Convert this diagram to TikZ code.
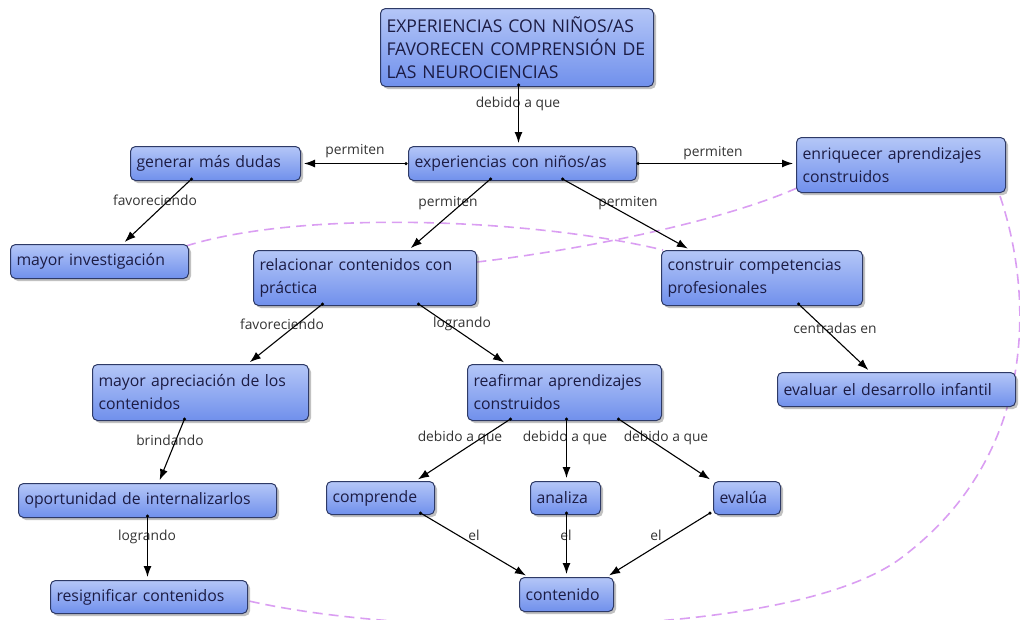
\documentclass[tikz,border=0pt]{standalone}
\usepackage{fontspec}
\setmainfont{Open Sans}
\usetikzlibrary{arrows.meta,shadows,calc}
\definecolor{boxtop}{HTML}{B4C6F7}
\definecolor{boxbot}{HTML}{7090EC}
\definecolor{boxborder}{HTML}{2E3A66}
\definecolor{boxtext}{HTML}{1C1C44}
\definecolor{lbltext}{HTML}{333333}
\definecolor{linkcol}{HTML}{DA9EF2}
\tikzset{
  box/.style={draw=boxborder, line width=1pt, rounded corners=5pt,
    top color=boxtop, bottom color=boxbot,
    drop shadow={shadow xshift=2.5pt, shadow yshift=-2.5pt, opacity=0.35, fill=black!70},
    anchor=north west, align=left, inner xsep=6pt, inner ysep=2pt,
    font=\fontsize{15.8}{23}\selectfont, text=boxtext},
  lbl/.style={font=\fontsize{13.8}{15}\selectfont, text=lbltext, inner sep=0pt},
  conn/.style={-{Latex[length=11pt,width=8pt]}, line width=1.1pt, shorten >=3pt},
  dotmark/.style={circle, fill=black, inner sep=0pt, minimum size=3.5pt},
  link/.style={draw=linkcol, line width=1.6pt, dash pattern=on 10pt off 6pt}
}
\newcommand{\bx}[6]{\node[box, minimum width=#4pt, minimum height=#5pt, text width=#4pt-12pt] (#1) at (#2,#3) {#6};}
\begin{document}
\begin{tikzpicture}[x=1pt,y=-1pt]
\useasboundingbox (0,0) rectangle (1020,619);
\begin{scope}
\clip (0,0) rectangle (1020,619);
% dashed cross links (drawn first, below boxes)
\coordinate (c1s) at (186,246);
\coordinate (c1e) at (663,250);
\draw[link] (c1s) .. controls (300,210) and (530,218) .. (c1e);
\coordinate (c2s) at (797,188);
\coordinate (c2e) at (477,262);
\draw[link] (c2s) .. controls (720,222) and (580,250) .. (c2e);
\coordinate (c3s) at (1000,196);
\coordinate (c3m) at (905,555);
\coordinate (c3e) at (249,601);
\draw[link] (c3s) .. controls (1035,300) and (1035,455) .. (c3m)
  .. controls (800,640) and (420,640) .. (c3e);
\end{scope}

% boxes
\node[box, minimum width=273pt, minimum height=78pt, text width=261pt,
  font=\fontsize{17.6}{23}\selectfont] (top) at (380,8)
  {EXPERIENCIAS CON NIÑOS/AS\\FAVORECEN COMPRENSIÓN DE\\LAS NEUROCIENCIAS};
\bx{exp}{408}{146}{228}{34}{experiencias con niños/as}
\bx{gen}{130}{146}{170}{34}{generar más dudas}
\bx{enr}{796}{137}{209}{55}{enriquecer aprendizajes\\construidos}
\bx{minv}{10}{244}{178}{34}{mayor investigación}
\bx{rel}{253}{250}{223}{55}{relacionar contenidos con\\práctica}
\bx{cons}{661}{250}{201}{55}{construir competencias\\profesionales}
\bx{mapr}{92}{364}{216}{56}{mayor apreciación de los\\contenidos}
\bx{reaf}{467}{364}{194}{56}{reafirmar aprendizajes\\construidos}
\bx{eval}{777}{372}{238}{34}{evaluar el desarrollo infantil}
\bx{oport}{18}{483}{258}{34}{oportunidad de internalizarlos}
\bx{comp}{326}{481}{108}{33}{comprende}
\bx{anal}{530}{481}{70}{33}{analiza}
\bx{evalua}{713}{481}{67}{33}{evalúa}
\bx{resig}{50}{580}{197}{33}{resignificar contenidos}
\bx{cont}{519}{577}{94}{34}{contenido}

% labels
\node[lbl] (l1) at (518,104) {debido a que};
\node[lbl] (l2) at (355,151) {permiten};
\node[lbl] (l3) at (713,153) {permiten};
\node[lbl] (l4) at (448,203) {permiten};
\node[lbl] (l5) at (628,203) {permiten};
\node[lbl] (l6) at (155,200) {favoreciendo};
\node[lbl] (l7) at (282,324) {favoreciendo};
\node[lbl] (l8) at (462,324) {logrando};
\node[lbl] (l9) at (835,328) {centradas en};
\node[lbl] (l10) at (170,440) {brindando};
\node[lbl] (l11) at (147,537) {logrando};
\node[lbl] (l12) at (460,438) {debido a que};
\node[lbl] (l13) at (565,438) {debido a que};
\node[lbl] (l14) at (666,438) {debido a que};
\node[lbl] (l15) at (474,535) {el};
\node[lbl] (l16) at (566,535) {el};
\node[lbl] (l17) at (656,535) {el};

% connectors
\newcommand{\cn}[2]{\draw[conn] #1 -- #2; \node[dotmark] at #1 {};}
\cn{([xshift=1.5pt,yshift=2pt]top.south)}{([xshift=-4pt]exp.north)}
\cn{([xshift=-2pt]exp.west)}{(gen.east)}
\cn{([xshift=1pt]exp.east)}{(enr.west |- exp.east)}
\cn{([xshift=-32pt,yshift=2pt]exp.south)}{([xshift=43.5pt]rel.north)}
\cn{([xshift=40pt,yshift=2pt]exp.south)}{([xshift=-71.5pt]cons.north)}
\cn{([xshift=-24pt,yshift=2pt]gen.south)}{([xshift=23pt]minv.north)}
\cn{([xshift=-42.5pt,yshift=2pt]rel.south)}{([xshift=47pt]mapr.north)}
\cn{([xshift=53.5pt,yshift=2pt]rel.south)}{([xshift=-58pt]reaf.north)}
\cn{([xshift=36.5pt,yshift=2pt]cons.south)}{([xshift=-26pt]eval.north)}
\cn{([xshift=-16pt,yshift=2pt]mapr.south)}{([xshift=11pt]oport.north)}
\cn{([yshift=2pt]oport.south)}{([xshift=-1.5pt]resig.north)}
\cn{([xshift=-54pt,yshift=2pt]reaf.south)}{([xshift=35pt]comp.north)}
\cn{([xshift=2pt,yshift=2pt]reaf.south)}{([xshift=1pt]anal.north)}
\cn{([xshift=54pt,yshift=2pt]reaf.south)}{([xshift=-34.5pt]evalua.north)}
\cn{([xshift=40pt,yshift=2pt]comp.south)}{([xshift=-38pt]cont.north)}
\cn{([xshift=1pt,yshift=2pt]anal.south)}{([xshift=0pt]cont.north)}
\cn{([xshift=-3pt,yshift=2pt]evalua.south west)}{([xshift=40pt]cont.north)}
\end{tikzpicture}
\end{document}
